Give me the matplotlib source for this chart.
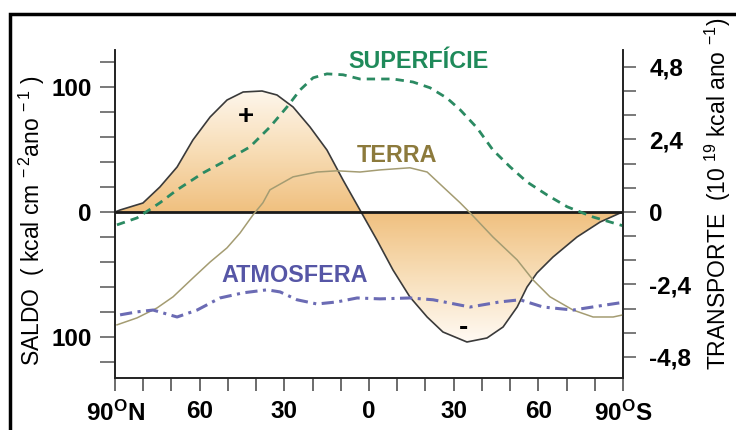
import numpy as np
import matplotlib
matplotlib.use('Agg')
import matplotlib.pyplot as plt
from matplotlib.colors import LinearSegmentedColormap
from matplotlib.path import Path
from matplotlib.patches import Rectangle

plt.rcParams['font.family'] = 'Liberation Sans'
plt.rcParams['mathtext.default'] = 'regular'

# saldo de radiacao (kcal cm-2 ano-1), eixo da esquerda
lat_saldo = [90, 88.2, 80.1, 74.1, 68.0, 62.4, 56.3, 50.3, 44.6, 37.9, 32.6,
             26.9, 20.9, 14.9, 9.2, 3.2, -2.8, -8.5, -14.5, -20.6, -26.2,
             -34.7, -41.8, -47.5, -52.5, -56.0, -59.5, -65.2, -73.7, -81.9,
             -89.0, -90]
saldo = [0, 1.6, 7.2, 20, 36, 57.6, 76, 89.6, 96, 96.8, 93.6, 84, 68, 49.6,
         25.6, 1.6, -22.4, -46.4, -68, -84, -96, -104, -100.8, -92, -76, -60,
         -48.8, -36, -20, -8, -0.8, 0]

# transportes (10^19 kcal ano-1), eixo da direita
lat_sup = [89.3, 82.2, 74.1, 68.0, 58.8, 50.3, 42.2, 35.1, 29.0, 24.4, 19.8,
           14.9, 9.2, 3.2, -8.5, -15.6, -21.6, -27.6, -32.3, -38.3, -43.9,
           -50.0, -56.0, -63.1, -70.2, -79.4, -90]
superficie = [-0.43, -0.2, 0.30, 0.73, 1.29, 1.72, 2.15, 2.81, 3.48, 4.04,
              4.44, 4.57, 4.54, 4.40, 4.40, 4.30, 4.11, 3.77, 3.38, 2.78,
              2.05, 1.49, 0.99, 0.56, 0.17, -0.17, -0.46]

lat_terra = [89.3, 82.2, 75.1, 69.4, 62.4, 56.3, 50.3, 45.7, 41.1, 37.6,
             35.1, 26.9, 18.4, 11.3, 3.2, -3.9, -14.5, -20.6, -26.2, -32.3,
             -35.8, -43.9, -52.5, -58.1, -64.1, -72.3, -79.4, -86.5, -90]
terra = [-3.74, -3.51, -3.18, -2.81, -2.19, -1.66, -1.19, -0.70, -0.10, 0.30,
         0.73, 1.16, 1.32, 1.36, 1.32, 1.39, 1.46, 1.32, 0.83, 0.30, -0.03,
         -0.83, -1.59, -2.25, -2.81, -3.25, -3.48, -3.48, -3.41]

lat_atm = [88.2, 82.2, 76.5, 68.0, 60.9, 52.8, 44.6, 36.1, 31.5, 25.5, 18.4,
           11.3, 4.2, -3.9, -14.5, -22.7, -35.8, -46.4, -53.5, -61.7, -72.3,
           -81.9, -89.0]
atmosfera = [-3.41, -3.31, -3.25, -3.48, -3.25, -2.85, -2.68, -2.58, -2.65,
             -2.91, -3.05, -2.98, -2.85, -2.88, -2.85, -2.91, -3.15, -2.98,
             -2.91, -3.15, -3.25, -3.11, -3.01]

lat_ticks = [90, 60, 30, 0, -30, -60, -90]
lat_labels = ['90$^{O}$N', '60', '30', '0', '30', '60', '90$^{O}$S']
saldo_ticks = [100, 0, -100]
saldo_labels = ['100', '0', '100']
transp_ticks = [4.8, 2.4, 0, -2.4, -4.8]
transp_labels = ['4,8', '2,4', '0', '-2,4', '-4,8']

fig = plt.figure(figsize=(7.36, 4.30), dpi=100)
ax = fig.add_axes([115/736, 1-378/430, 508/736, 328/430])
ax2 = ax.twinx()

ylim_l = (-132.8, 129.6)
ylim_r = (-5.50, 5.36)

# preenchimento em degrade
cmap = LinearSegmentedColormap.from_list('sal', ['#f0c07f', '#f8dfba', '#fffaf4'])
poly = ax.fill_between(lat_saldo, saldo, 0, color='none', lw=0)
grad = np.abs(np.linspace(ylim_l[0], ylim_l[1], 300))[:, None]
im = ax.imshow(grad, extent=[90, -90, ylim_l[0], ylim_l[1]], origin='lower',
               cmap=cmap, vmin=0, vmax=105, aspect='auto', zorder=1)
clip = Path.make_compound_path(*poly.get_paths())
im.set_clip_path(clip, transform=ax.transData)

ax.plot(lat_saldo, saldo, color='#3a3a3a', lw=1.2, zorder=3)
ax.axhline(0, color='#1a1a1a', lw=2, zorder=4)

ax2.plot(lat_terra, terra, color='#a49c72', lw=1.1)
ax2.plot(lat_sup, superficie, color='#2b8a62', lw=2, dashes=(3, 2.2))
ax2.plot(lat_atm, atmosfera, color='#6b6bb4', lw=2.2, dashes=(4, 1.8, 1, 1.8))

ax.set_xlim(90, -90)
ax.set_ylim(*ylim_l)
ax2.set_ylim(*ylim_r)

ax.set_xticks(np.arange(90, -91, -10), minor=True)
ax.set_xticks(lat_ticks)
ax.set_xticklabels(lat_labels, fontsize=17.5, fontweight='bold')
ax.set_yticks(np.arange(-120, 121, 20), minor=True)
ax.set_yticks(saldo_ticks)
ax.set_yticklabels(saldo_labels, fontsize=17.5, fontweight='bold')
ax2.set_yticks(np.arange(-4.8, 4.81, 0.8), minor=True)
ax2.set_yticks(transp_ticks)
ax2.set_yticklabels(transp_labels, fontsize=17.5, fontweight='bold')

ax.tick_params(axis='x', which='both', length=9, width=1.1, color='#444',
               pad=7)
ax.tick_params(axis='y', which='both', length=11, width=1.1, color='#555',
               pad=6)
ax2.tick_params(axis='y', which='both', length=9, width=1.1, color='#555',
                pad=10)

for a in (ax, ax2):
    a.spines['top'].set_visible(False)
    for s in ('left', 'right', 'bottom'):
        a.spines[s].set_linewidth(1.2)
        a.spines[s].set_color('#222')

ax.text(-17.7, 120, 'SUPERFÍCIE', color='#1f8a5a', fontsize=16.8,
        fontweight='bold', ha='center', va='center')
ax.text(-9.9, 45, 'TERRA', color='#8c7a3c', fontsize=16.8, fontweight='bold',
        ha='center', va='center')
ax.text(26.2, -51, 'ATMOSFERA', color='#5656a6', fontsize=16.8,
        fontweight='bold', ha='center', va='center')
ax.text(43.5, 76, '+', color='black', fontsize=20, fontweight='bold',
        ha='center', va='center')
ax.text(-33.5, -93, '-', color='black', fontsize=20, fontweight='bold',
        ha='center', va='center')

fig.text(32/736, 1-221/430, 'SALDO  ( kcal cm $^{-\\,2}$ano $^{-\\,1}$ )',
         rotation=90, fontsize=16.5, ha='center', va='center')
fig.text(718/736, 1-194/430, 'TRANSPORTE  (10 $^{19}$ kcal ano $^{-1}$)',
         rotation=90, fontsize=16.5, ha='center', va='center')

fig.patches.append(Rectangle((10/736, -0.1), 1.0, 1-14/430+0.1,
                             transform=fig.transFigure, fill=False,
                             lw=2.5, ec='black'))

plt.savefig('out.png', dpi=100)
